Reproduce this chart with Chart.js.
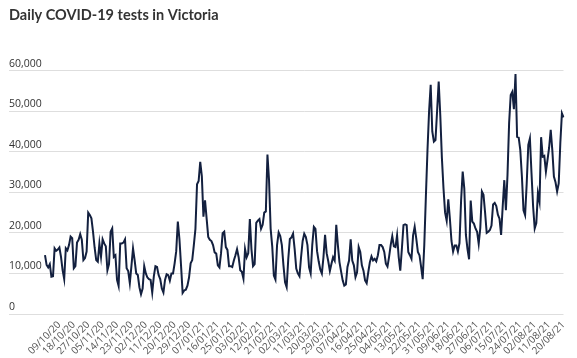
<!DOCTYPE html>
<html>
<head>
<meta charset="utf-8">
<title>Daily COVID-19 tests in Victoria</title>
<script src="https://cdn.jsdelivr.net/npm/chart.js@4.4.1/dist/chart.umd.min.js"></script>
<style>
  html, body { margin: 0; padding: 0; background: #fff; }
  #wrap { width: 577px; height: 358px; position: relative; }
</style>
</head>
<body>
<div id="wrap"><canvas id="testsChart"></canvas></div>
<script>
// Series starts on 30/09/2020, one value per day
const startDate = Date.UTC(2020, 8, 30);

const dailyTests = [
  14500, 12100, 11500, 12300, 9200, 9300, 16200, 15600, 15900, 16400,
  14100, 10800, 8600, 16200, 15700, 17000, 19100, 18700, 11300, 11800,
  17600, 18300, 19700, 18300, 13300, 13800, 15400, 25000, 24400, 23600,
  20300, 16400, 13300, 12900, 17400, 14100, 18400, 17400, 16700, 10800,
  12300, 20300, 21100, 14100, 14500, 8400, 6900, 17400, 17400, 17600,
  18400, 11300, 10600, 7600, 11800, 16200, 13300, 10000, 9600, 6600,
  4900, 6300, 11800, 10000, 9000, 8600, 8400, 5300, 9300, 11800,
  11600, 9600, 8600, 6300, 5300, 8400, 9800, 9600, 8200, 10000,
  10000, 12500, 15500, 22800, 18500, 12000, 5200, 5800, 6000, 7000,
  9000, 12500, 13300, 17000, 21000, 32000, 32800, 37500, 34000, 24000,
  28000, 23500, 19000, 18300, 18000, 17000, 15200, 14900, 12000, 11500,
  15000, 19900, 20300, 16500, 15800, 11800, 11800, 11600, 13200, 14500,
  16000, 14000, 10800, 10400, 8700, 16000, 14000, 15000, 23400, 16000,
  11800, 12300, 22500, 23000, 23400, 21000, 22000, 25000, 25300, 39300,
  33000, 21000, 16600, 9500, 8500, 17000, 20100, 19200, 17000, 12000,
  7800, 6600, 13500, 18500, 18900, 19800, 16000, 11200, 10000, 9300,
  14000, 18000, 19800, 19000, 17000, 11500, 10000, 17000, 21500, 21000,
  15500, 13000, 11000, 10000, 14000, 19500, 15000, 13000, 10600, 12400,
  14000, 13200, 22000, 17000, 12800, 10500, 8300, 7000, 7300, 11600,
  13200, 18400, 13200, 12000, 9100, 10300, 16500, 15300, 12000, 10700,
  8300, 7600, 10300, 12800, 14200, 13200, 13600, 13000, 14500, 17000,
  17000, 16500, 15300, 12400, 11700, 14100, 17000, 19200, 16700, 16500,
  19400, 14100, 10700, 16100, 21900, 22100, 21900, 15300, 14500, 13600,
  19400, 21500, 18600, 15300, 14500, 11700, 8600, 17000, 29000, 40400,
  50000, 56500, 45000, 42500, 42900, 50000, 57300, 49000, 38500, 31000,
  25000, 23000, 28300, 23500, 18000, 15400, 16900, 16900, 15400, 17500,
  28000, 35100, 31000, 19500, 16000, 13500, 28000, 22800, 22300, 21100,
  20300, 17300, 21200, 30200, 29400, 25000, 20000, 20300, 20700, 21800,
  27000, 27400, 26600, 24500, 23500, 19500, 26500, 33000, 25600, 34300,
  47000, 54000, 54800, 50500, 59200, 43700, 43500, 40400, 33900, 25600,
  24400, 32200, 41700, 43300, 34700, 26500, 21100, 22400, 29800, 27700,
  43600, 38800, 39000, 35100, 38000, 41000, 45400, 40400, 33900, 32500,
  30200, 32200, 42100, 49500, 48500
];

const xTickLabels = [
  '09/10/20', '18/10/20', '27/10/20', '05/11/20', '14/11/20', '23/11/20',
  '02/12/20', '11/12/20', '20/12/20', '29/12/20', '07/01/21', '16/01/21',
  '25/01/21', '03/02/21', '12/02/21', '21/02/21', '02/03/21', '11/03/21',
  '20/03/21', '29/03/21', '07/04/21', '16/04/21', '25/04/21', '04/05/21',
  '13/05/21', '22/05/21', '31/05/21', '09/06/21', '18/06/21', '27/06/21',
  '06/07/21', '15/07/21', '24/07/21', '02/08/21', '11/08/21', '20/08/21'
];

const yTicks = [0, 10000, 20000, 30000, 40000, 50000, 60000];

const pad2 = n => String(n).padStart(2, '0');
const dates = dailyTests.map((_, i) => {
  const d = new Date(startDate + i * 86400000);
  return pad2(d.getUTCDate()) + '/' + pad2(d.getUTCMonth() + 1) + '/' + pad2(d.getUTCFullYear() % 100);
});

const gridGrey = '#dedede';

new Chart(document.getElementById('testsChart'), {
  type: 'line',
  data: {
    labels: dates,
    datasets: [{
      data: dailyTests,
      borderColor: '#13203f',
      borderWidth: 2,
      pointRadius: 0,
      tension: 0,
      fill: false
    }]
  },
  options: {
    responsive: true,
    maintainAspectRatio: false,
    animation: false,
    layout: { padding: { left: 9, right: 9, top: 0, bottom: 0 } },
    plugins: {
      legend: { display: false },
      tooltip: { enabled: false },
      title: {
        display: true,
        text: 'Daily COVID-19 tests in Victoria',
        align: 'start',
        color: '#333333',
        font: { family: 'Lato', size: 14.5, weight: 'bold' },
        padding: { top: 7, bottom: 46.3 }
      }
    },
    scales: {
      x: {
        grid: { display: false, drawTicks: false },
        border: { display: false },
        ticks: {
          autoSkip: false,
          minRotation: 45,
          maxRotation: 45,
          padding: 5,
          color: '#555555',
          font: { family: 'Open Sans', size: 10 },
          callback: function (value) {
            const label = this.getLabelForValue(value);
            return xTickLabels.includes(label) ? label : null;
          }
        },
        afterFit: scale => { scale.height = 44; }
      },
      y: {
        min: 0,
        max: 60000,
        afterBuildTicks: scale => { scale.ticks = yTicks.map(v => ({ value: v })); },
        grid: { color: gridGrey, tickColor: gridGrey, lineWidth: 1, drawTicks: true, tickLength: 36 },
        border: { display: false },
        ticks: {
          crossAlign: 'far',
          labelOffset: -7,
          padding: 0,
          color: '#333333',
          font: { family: 'Open Sans', size: 10.5 },
          callback: v => v.toLocaleString('en-US')
        },
        afterFit: scale => { scale.width = 36; }
      }
    }
  }
});
</script>
</body>
</html>
